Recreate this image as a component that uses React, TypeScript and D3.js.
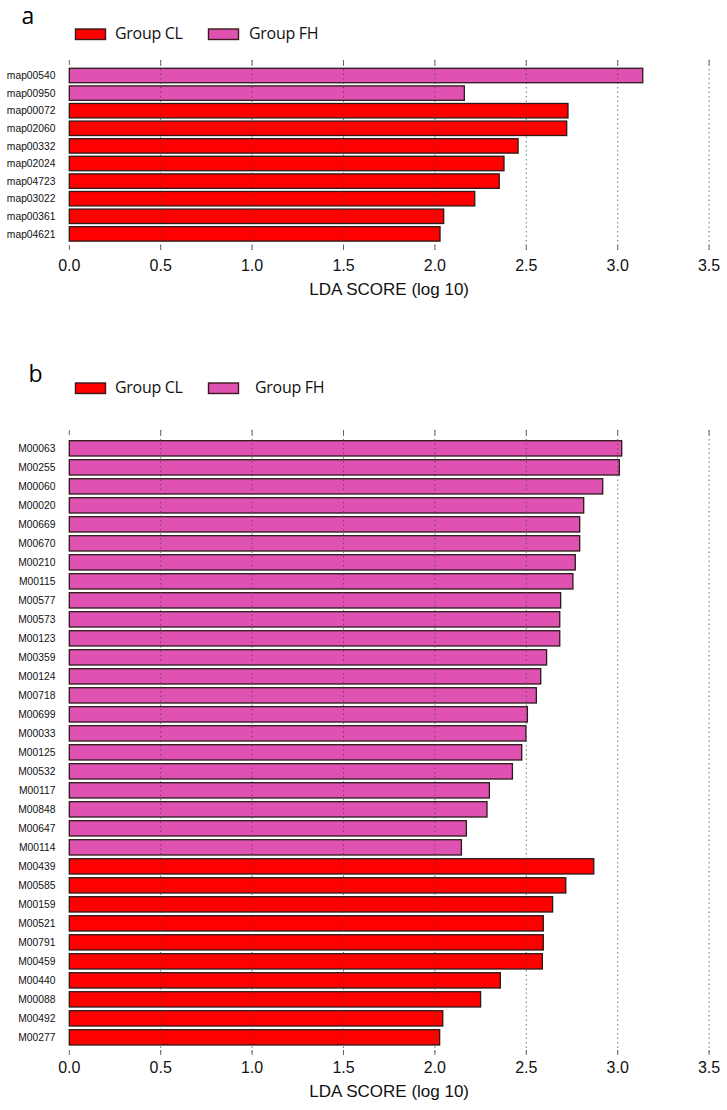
import React from "react";
import * as d3 from "d3";

const ticks = [0, 0.5, 1.0, 1.5, 2.0, 2.5, 3.0, 3.5];
const tickLabels = ["0.0", "0.5", "1.0", "1.5", "2.0", "2.5", "3.0", "3.5"];
const groupNames = ["Group CL", "Group FH"];
const groupColors = ["#FF0000", "#E052B2"];

const aCats = ["map00540", "map00950", "map00072", "map02060", "map00332", "map02024", "map04723", "map03022", "map00361", "map04621"];
const aValues = [3.137, 2.161, 2.728, 2.721, 2.455, 2.378, 2.352, 2.218, 2.048, 2.028];
const aGroups = ["FH", "FH", "CL", "CL", "CL", "CL", "CL", "CL", "CL", "CL"];

const bCats = ["M00063", "M00255", "M00060", "M00020", "M00669", "M00670", "M00210", "M00115", "M00577", "M00573", "M00123", "M00359", "M00124", "M00718", "M00699", "M00033", "M00125", "M00532", "M00117", "M00848", "M00647", "M00114", "M00439", "M00585", "M00159", "M00521", "M00791", "M00459", "M00440", "M00088", "M00492", "M00277"];
const bValues = [3.022, 3.009, 2.918, 2.814, 2.792, 2.792, 2.768, 2.755, 2.688, 2.683, 2.683, 2.611, 2.579, 2.555, 2.506, 2.498, 2.475, 2.424, 2.298, 2.285, 2.172, 2.145, 2.869, 2.716, 2.644, 2.593, 2.593, 2.588, 2.358, 2.250, 2.043, 2.026];
const bGroups = ["FH", "FH", "FH", "FH", "FH", "FH", "FH", "FH", "FH", "FH", "FH", "FH", "FH", "FH", "FH", "FH", "FH", "FH", "FH", "FH", "FH", "FH", "CL", "CL", "CL", "CL", "CL", "CL", "CL", "CL", "CL", "CL"];

const x = d3.scaleLinear().domain([0, 3.5]).range([69.3, 709.1]);
const sansUI = "'Open Sans', 'Noto Sans', sans-serif";
const arial = "'Liberation Sans', Arial, sans-serif";

type PanelProps = {
  letter: string;
  letterX: number;
  letterY: number;
  legendY: number;
  fhTextX: number;
  cats: string[];
  values: number[];
  groups: string[];
  bandTop: number;
  step: number;
  pad: number;
  tickTop: number;
  tickBottom: number;
  tickLabelY: number;
  titleY: number;
};

function Panel(p: PanelProps) {
  const n = p.cats.length;
  const y = d3
    .scaleBand<string>()
    .domain(p.cats)
    .range([p.bandTop, p.bandTop + n * p.step])
    .paddingInner(p.pad)
    .paddingOuter(p.pad / 2);
  const colorOf = (g: string) => (g === "CL" ? groupColors[0] : groupColors[1]);
  return (
    <g>
      <text x={p.letterX} y={p.letterY} fontFamily={sansUI} fontSize={23} fill="#000">
        {p.letter}
      </text>
      {/* legend */}
      <rect x={75.5} y={p.legendY} width={30} height={10.5} fill={groupColors[0]} stroke="#3a1a1a" strokeWidth={1.4} />
      <text x={115} y={p.legendY + 10} fontFamily={sansUI} fontSize={16} letterSpacing={-0.3} fill="#111">
        {groupNames[0]}
      </text>
      <rect x={208.5} y={p.legendY} width={30} height={10.5} fill={groupColors[1]} stroke="#3a1a1a" strokeWidth={1.4} />
      <text x={p.fhTextX} y={p.legendY + 10} fontFamily={sansUI} fontSize={16} letterSpacing={-0.3} fill="#111">
        {groupNames[1]}
      </text>
      {/* bars */}
      {p.cats.map((c, i) => (
        <g key={c}>
          <rect
            x={x(0)}
            y={y(c)!}
            width={x(p.values[i]) - x(0)}
            height={y.bandwidth()}
            fill={colorOf(p.groups[i])}
            stroke="#2a1a1a"
            strokeWidth={1.3}
          />
          <text
            x={55.5}
            y={y(c)! + y.bandwidth() / 2}
            dy="0.35em"
            textAnchor="end"
            fontFamily={arial}
            fontSize={10.3}
            fill="#111"
          >
            {c}
          </text>
        </g>
      ))}
      {/* grid and ticks */}
      {ticks.map((t, i) => (
        <g key={t}>
          {i > 0 && (
            <line
              x1={x(t)}
              x2={x(t)}
              y1={p.tickTop}
              y2={p.tickBottom}
              stroke="#444"
              strokeOpacity={0.75}
              strokeWidth={1}
              strokeDasharray="1.5,3"
            />
          )}
          <line x1={x(t)} x2={x(t)} y1={p.tickTop} y2={p.tickTop + 5} stroke="#666" strokeWidth={1} />
          <line x1={x(t)} x2={x(t)} y1={p.tickBottom - 5} y2={p.tickBottom} stroke="#666" strokeWidth={1} />
          <text x={x(t)} y={p.tickLabelY} textAnchor="middle" fontFamily={arial} fontSize={16} fill="#111">
            {tickLabels[i]}
          </text>
        </g>
      ))}
      <text x={(x(0) + x(3.5)) / 2} y={p.titleY} textAnchor="middle" fontFamily={arial} fontSize={17} fill="#111">
        LDA SCORE (log 10)
      </text>
    </g>
  );
}

export default function App() {
  return (
    <svg width={727} height={1110} style={{ position: "absolute", left: 0, top: 0, background: "#fff" }}>
      <rect x={0} y={0} width={727} height={1110} fill="#fff" />
      <Panel
        letter="a"
        letterX={21.5}
        letterY={23.5}
        legendY={29}
        fhTextX={249}
        cats={aCats}
        values={aValues}
        groups={aGroups}
        bandTop={66.7}
        step={17.6}
        pad={0.18}
        tickTop={60}
        tickBottom={250}
        tickLabelY={270.7}
        titleY={295}
      />
      <Panel
        letter="b"
        letterX={28.5}
        letterY={382}
        legendY={383}
        fhTextX={255}
        cats={bCats}
        values={bValues}
        groups={bGroups}
        bandTop={438.85}
        step={19}
        pad={0.195}
        tickTop={430}
        tickBottom={1055}
        tickLabelY={1073.3}
        titleY={1096.7}
      />
    </svg>
  );
}
